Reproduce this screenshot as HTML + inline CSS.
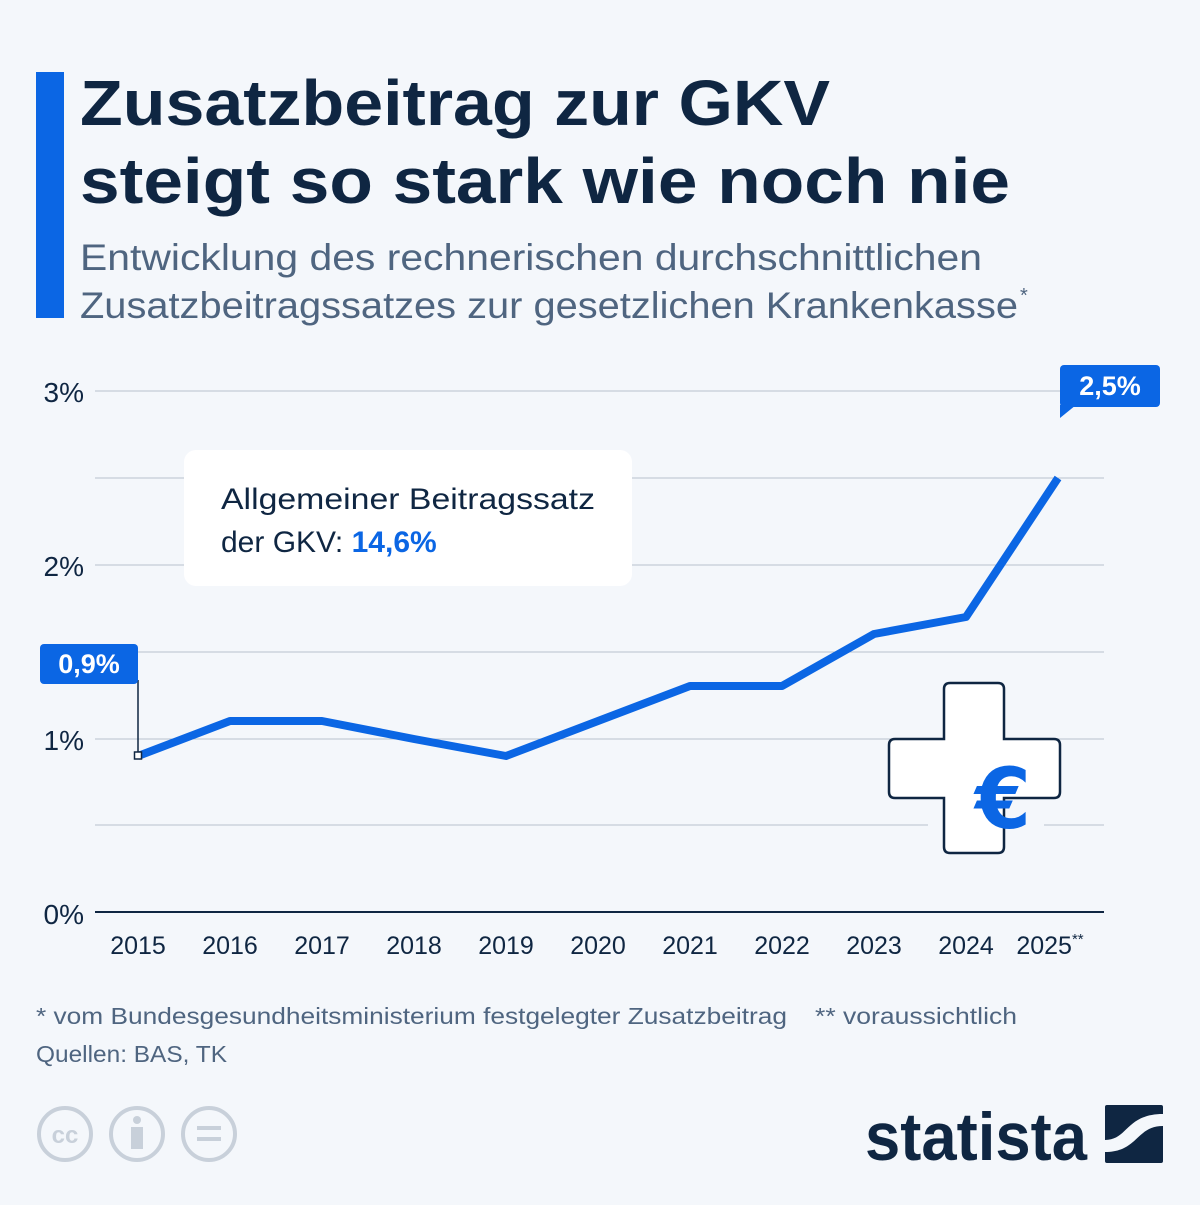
<!DOCTYPE html>
<html><head><meta charset="utf-8"><style>
body{margin:0;width:1200px;height:1200px;background:#f4f7fb;font-family:"Liberation Sans",sans-serif;overflow:hidden}
</style></head><body>
<svg width="1200" height="1200" viewBox="0 0 1200 1200" xmlns="http://www.w3.org/2000/svg" font-family="Liberation Sans, sans-serif">
<rect width="1200" height="1200" fill="#f4f7fb"/>
<rect x="36" y="72" width="28" height="246" fill="#0b66e4"/>
<text x="80" y="125" font-size="64" font-weight="bold" fill="#0f2642" textLength="750" lengthAdjust="spacingAndGlyphs">Zusatzbeitrag zur GKV</text>
<text x="80" y="203" font-size="64" font-weight="bold" fill="#0f2642" textLength="930" lengthAdjust="spacingAndGlyphs">steigt so stark wie noch nie</text>
<text x="80" y="270" font-size="37" fill="#4f6580" textLength="902" lengthAdjust="spacingAndGlyphs">Entwicklung des rechnerischen durchschnittlichen</text>
<text x="80" y="318" font-size="37" fill="#4f6580" textLength="938" lengthAdjust="spacingAndGlyphs">Zusatzbeitragssatzes zur gesetzlichen Krankenkasse</text>
<text x="1020" y="302" font-size="20" fill="#4f6580">*</text>
<g stroke="#b7c1cd" stroke-width="1">
<line x1="95" y1="391" x2="1104" y2="391"/><line x1="95" y1="478" x2="1104" y2="478"/>
<line x1="95" y1="565" x2="1104" y2="565"/><line x1="95" y1="652" x2="1104" y2="652"/>
<line x1="95" y1="739" x2="1104" y2="739"/><line x1="95" y1="825" x2="1104" y2="825"/>
</g>
<line x1="95" y1="912" x2="1104" y2="912" stroke="#0f2642" stroke-width="2"/>
<g font-size="28" fill="#0f2642" text-anchor="end">
<text x="84" y="402">3%</text><text x="84" y="576">2%</text><text x="84" y="750">1%</text><text x="84" y="924">0%</text>
</g>
<g font-size="25" fill="#0f2642" text-anchor="middle">
<text x="138" y="954">2015</text><text x="230" y="954">2016</text><text x="322" y="954">2017</text><text x="414" y="954">2018</text><text x="506" y="954">2019</text><text x="598" y="954">2020</text><text x="690" y="954">2021</text><text x="782" y="954">2022</text><text x="874" y="954">2023</text><text x="966" y="954">2024</text><text x="1050" y="954">2025<tspan font-size="15" dy="-10">**</tspan></text>
</g>
<polyline points="138,756 230,721 322,721 414,739 506,756 598,721 690,686 782,686 874,634 966,617 1058,478" fill="none" stroke="#0b66e4" stroke-width="8" stroke-linejoin="round"/>
<line x1="138" y1="680" x2="138" y2="756" stroke="#0f2642" stroke-width="1.5"/>
<rect x="134.5" y="752" width="7" height="7" fill="#fff" stroke="#0f2642" stroke-width="1.5"/>
<rect x="40" y="644" width="98" height="40" rx="4" fill="#0b66e4"/>
<text x="89" y="673" font-size="27" font-weight="bold" fill="#fff" text-anchor="middle">0,9%</text>
<rect x="1060" y="365" width="100" height="42" rx="4" fill="#0b66e4"/>
<polygon points="1060,405 1076,405 1060,418" fill="#0b66e4"/>
<text x="1110" y="395" font-size="27" font-weight="bold" fill="#fff" text-anchor="middle">2,5%</text>
<rect x="184" y="450" width="448" height="136" rx="12" fill="#fff"/>
<text x="221" y="509" font-size="30" fill="#0f2642" textLength="374" lengthAdjust="spacingAndGlyphs">Allgemeiner Beitragssatz</text>
<text x="221" y="552" font-size="30" fill="#0f2642">der GKV: <tspan font-weight="bold" fill="#0b66e4">14,6%</tspan></text>
<rect x="928" y="815" width="116" height="20" fill="#f4f7fb"/>
<path d="M950,683 H998 Q1004,683 1004,689 V739 H1054 Q1060,739 1060,745 V792 Q1060,798 1054,798 H1004 V847 Q1004,853 998,853 H950 Q944,853 944,847 V798 H895 Q889,798 889,792 V745 Q889,739 895,739 H944 V689 Q944,683 950,683 Z" fill="#fff" stroke="#0f2642" stroke-width="2.5"/>
<text x="1003" y="828" font-size="84" font-weight="bold" fill="#0b66e4" text-anchor="middle" font-family="DejaVu Sans, sans-serif" textLength="56" lengthAdjust="spacingAndGlyphs">€</text>
<text x="36" y="1024" font-size="23" fill="#4f6580" textLength="751" lengthAdjust="spacingAndGlyphs">* vom Bundesgesundheitsministerium festgelegter Zusatzbeitrag</text>
<text x="815" y="1024" font-size="23" fill="#4f6580" textLength="202" lengthAdjust="spacingAndGlyphs">** voraussichtlich</text>
<text x="36" y="1062" font-size="23" fill="#4f6580" textLength="191" lengthAdjust="spacingAndGlyphs">Quellen: BAS, TK</text>
<g fill="none" stroke="#c8d0da" stroke-width="4">
<circle cx="65" cy="1134" r="26"/><circle cx="137" cy="1134" r="26"/><circle cx="209" cy="1134" r="26"/>
</g>
<text x="65" y="1143" font-size="24" font-weight="bold" fill="#c8d0da" text-anchor="middle">cc</text>
<circle cx="137" cy="1120" r="4" fill="#c8d0da"/>
<rect x="131" y="1127" width="12" height="22" fill="#c8d0da"/>
<rect x="197" y="1126" width="24" height="4" fill="#c8d0da"/><rect x="197" y="1137" width="24" height="4" fill="#c8d0da"/>
<text x="865" y="1160" font-size="68" font-weight="bold" fill="#0f2642" textLength="222" lengthAdjust="spacingAndGlyphs">statista</text>
<rect x="1105" y="1105" width="58" height="58" rx="2" fill="#0f2642"/>
<path d="M1105,1140 C1128,1140 1126,1114 1163,1114 V1126 C1136,1126 1138,1152 1105,1152 Z" fill="#f4f7fb"/>
</svg>
</body></html>
